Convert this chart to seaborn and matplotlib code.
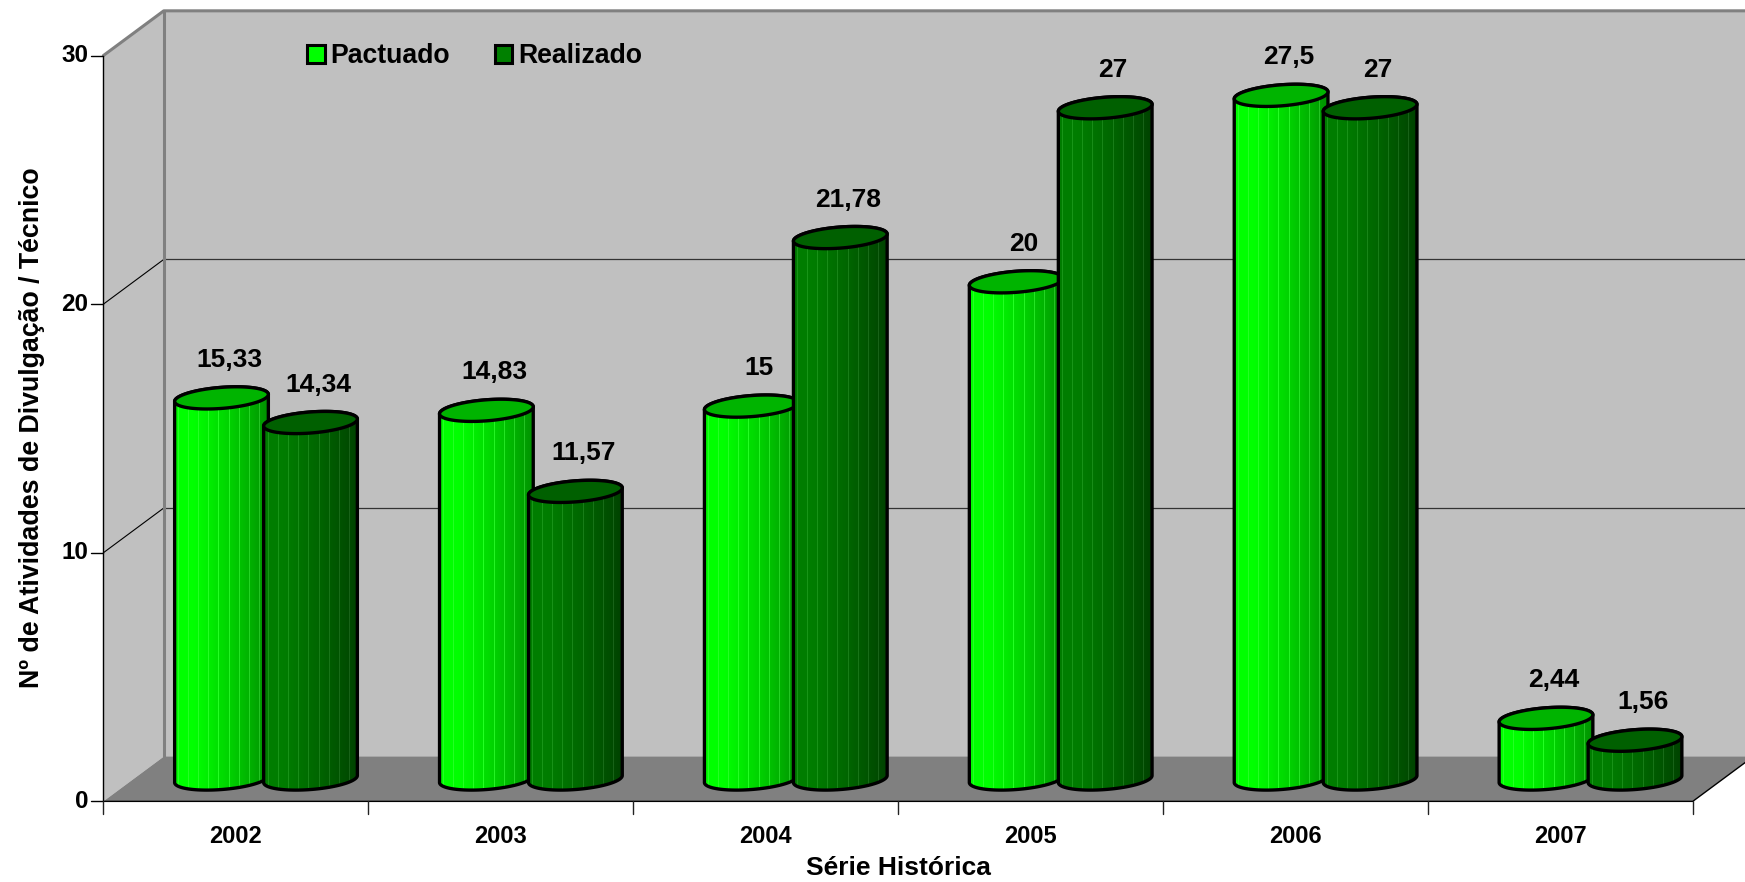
import numpy as np
import pandas as pd
import matplotlib
matplotlib.use("Agg")
import matplotlib.pyplot as plt
from matplotlib.patches import Polygon, Rectangle
import seaborn as sns

# dados
anos = ["2002", "2003", "2004", "2005", "2006", "2007"]
pactuado = [15.33, 14.83, 15, 20, 27.5, 2.44]
realizado = [14.34, 11.57, 21.78, 27, 27, 1.56]
rotulos_pactuado = ["15,33", "14,83", "15", "20", "27,5", "2,44"]
rotulos_realizado = ["14,34", "11,57", "21,78", "27", "27", "1,56"]
ticks_y = [0, 10, 20, 30]

df = pd.DataFrame({
    "ano": anos * 2,
    "valor": pactuado + realizado,
    "serie": ["Pactuado"] * 6 + ["Realizado"] * 6,
})

sns.set_theme(style="white")
plt.rcParams["font.family"] = ["Liberation Sans", "DejaVu Sans"]
plt.rcParams["font.weight"] = "bold"

W, H = 1745, 882
fig = plt.figure(figsize=(W / 100, H / 100), dpi=100)
ax = fig.add_axes([0, 0, 1, 1])

sns.barplot(data=df, x="ano", y="valor", hue="serie", order=anos,
            palette={"Pactuado": "#00FF00", "Realizado": "#008000"},
            width=0.672, gap=0, saturation=1, errorbar=None,
            edgecolor="black", linewidth=2.2, ax=ax)

# escala: pixels por unidade de dado, barra 0 em (266, 779)
SX, SY = 264.9, 24.86
x_lim = (-266 / SX, (W - 266) / SX)
y_lim = ((779 - H) / SY, 779 / SY)
DX, DY = 0.114, 0.9   # meia profundidade do grafico 3D


def front(x, y):
    return (x - DX, y - DY)


def back(x, y):
    return (x + DX, y + DY)


x_a, x_b = -0.5, 5.5
CINZA_BORDA = "#808080"

# paredes e piso
ax.add_patch(Polygon([back(x_a, 0), back(x_b + 1, 0), back(x_b + 1, 30), back(x_a, 30)],
                     fc="#C0C0C0", ec="none", zorder=0.1))
ax.add_patch(Polygon([front(x_a, 0), back(x_a, 0), back(x_a, 30), front(x_a, 30)],
                     fc="#C0C0C0", ec="none", zorder=0.1))
ax.add_patch(Polygon([front(x_a, 0), front(x_b, 0), back(x_b, 0), back(x_a, 0)],
                     fc="#808080", ec="none", zorder=0.2))

for v in ticks_y[1:3]:
    ax.plot(*zip(front(x_a, v), back(x_a, v)), color="black", lw=0.8, zorder=0.3)
    ax.plot(*zip(back(x_a, v), back(x_b + 1, v)), color="#333333", lw=0.9, zorder=0.3)

# bordas cinza da parede
ax.plot(*zip(front(x_a, 30), back(x_a, 30), back(x_b + 1, 30)), color=CINZA_BORDA, lw=2.2, zorder=0.4)
ax.plot(*zip(back(x_a, 0), back(x_a, 30)), color=CINZA_BORDA, lw=2.2, zorder=0.4)

# eixos na frente
ax.plot(*zip(front(x_a, 0), front(x_a, 30)), color="black", lw=1, zorder=0.5)
ax.plot(*zip(front(x_a, 0), front(x_b, 0), back(x_b, 0)), color="black", lw=1, zorder=0.5)
for v in ticks_y:
    x0, y0 = front(x_a, v)
    ax.plot([x0 - 12 / SX, x0], [y0, y0], color="black", lw=1, zorder=0.5)
    ax.text(x0 - 15 / SX, y0, str(v), ha="right", va="center", fontsize=17.5, color="black")
for i in range(len(anos) + 1):
    x0, y0 = front(i - 0.5, 0)
    ax.plot([x0, x0], [y0, y0 - 13 / SY], color="#222222", lw=1, zorder=0.5)
for i, ano in enumerate(anos):
    x0, y0 = front(i, 0)
    ax.text(x0, y0 - 35 / SY, ano, ha="center", va="center", fontsize=17, color="black")


# cilindros
TILT = np.deg2rad(4.5)
B_PX = 10.5


def elipse(cx, cy, a, t):
    xp = a * np.cos(t) * np.cos(TILT) - B_PX * np.sin(t) * np.sin(TILT)
    yp = a * np.cos(t) * np.sin(TILT) + B_PX * np.sin(t) * np.cos(TILT)
    return np.column_stack([cx + xp / SX, cy + yp / SY])


def faixas(pico, borda):
    # degrade horizontal com listras claras finas
    n = 94
    pos = np.linspace(0, 1, n)
    peso = np.clip((pos - 0.2) / 0.8, 0, 1) ** 1.2
    cor = np.outer(1 - peso, pico) + np.outer(peso, borda)
    brilho = max(pico) / 255 * 0.6 + 0.4
    cor[4::10] = np.minimum(cor[4::10] + np.array([35, 35, 35]) * brilho, 255)
    return cor[None, :, :].astype(np.uint8)


estilos = {
    False: dict(pico=(0, 255, 0), borda=(0, 145, 0), tampa="#00B400"),
    True: dict(pico=(0, 125, 0), borda=(0, 66, 0), tampa="#006000"),
}
t_inf = np.linspace(np.pi, 2 * np.pi, 60)
t_sup = np.linspace(0, np.pi, 60)
t_todo = np.linspace(0, 2 * np.pi, 120)

for patch in list(ax.patches):
    # o seaborn deixa retangulos vazios para a legenda
    if not isinstance(patch, Rectangle) or patch.get_height() == 0:
        continue
    larg = patch.get_width()
    cx = patch.get_x() + larg / 2
    h = patch.get_height()
    grupo = int(round(cx))
    eh_real = cx > grupo
    z = 2 + grupo * 0.1 + (0.05 if eh_real else 0)
    a = larg * SX / 2 + 2.5
    est = estilos[eh_real]

    corpo = np.vstack([elipse(cx, 0, a, t_inf), elipse(cx, h, a, t_sup)])
    ax.add_patch(Polygon(corpo, closed=True, fc="none", ec="black", lw=2.4, zorder=z + 0.02))

    patch.set_zorder(z)
    patch.set_linewidth(0)
    patch.set_clip_path(Polygon(corpo, closed=True, transform=ax.transData))

    im = ax.imshow(faixas(est["pico"], est["borda"]), aspect="auto", interpolation="nearest",
                   extent=(cx - a / SX, cx + a / SX, -B_PX / SY * 1.5, h + B_PX / SY * 1.5),
                   zorder=z + 0.01)
    im.set_clip_path(Polygon(corpo, closed=True, transform=ax.transData))

    ax.add_patch(Polygon(elipse(cx, h, a, t_todo), closed=True, fc=est["tampa"], ec="black",
                         lw=2.4, zorder=z + 0.03))

    rotulos = rotulos_realizado if eh_real else rotulos_pactuado
    ax.annotate(rotulos[grupo], (cx, h), xytext=(8, 38), textcoords="offset pixels",
                ha="center", va="center", fontsize=19, color="black", zorder=5)

ax.set_xlim(*x_lim)
ax.set_ylim(*y_lim)
ax.set_axis_off()

sns.move_legend(ax, loc="center left", bbox_to_anchor=(307 / W, 1 - 56 / H), ncol=2, title=None,
                frameon=False, fontsize=19.2, handlelength=0.66, handleheight=0.66,
                handletextpad=0.22, columnspacing=1.68, borderpad=0, borderaxespad=0,
                labelcolor="black")

fig.text(32 / W, 1 - 428 / H, "Nº de Atividades de Divulgação / Técnico", rotation=90,
         ha="center", va="center", fontsize=19.3, color="black")
fig.text(898 / W, 1 - 868 / H, "Série Histórica", ha="center", va="center", fontsize=19, color="black")

fig.savefig("out.png", dpi=100)
